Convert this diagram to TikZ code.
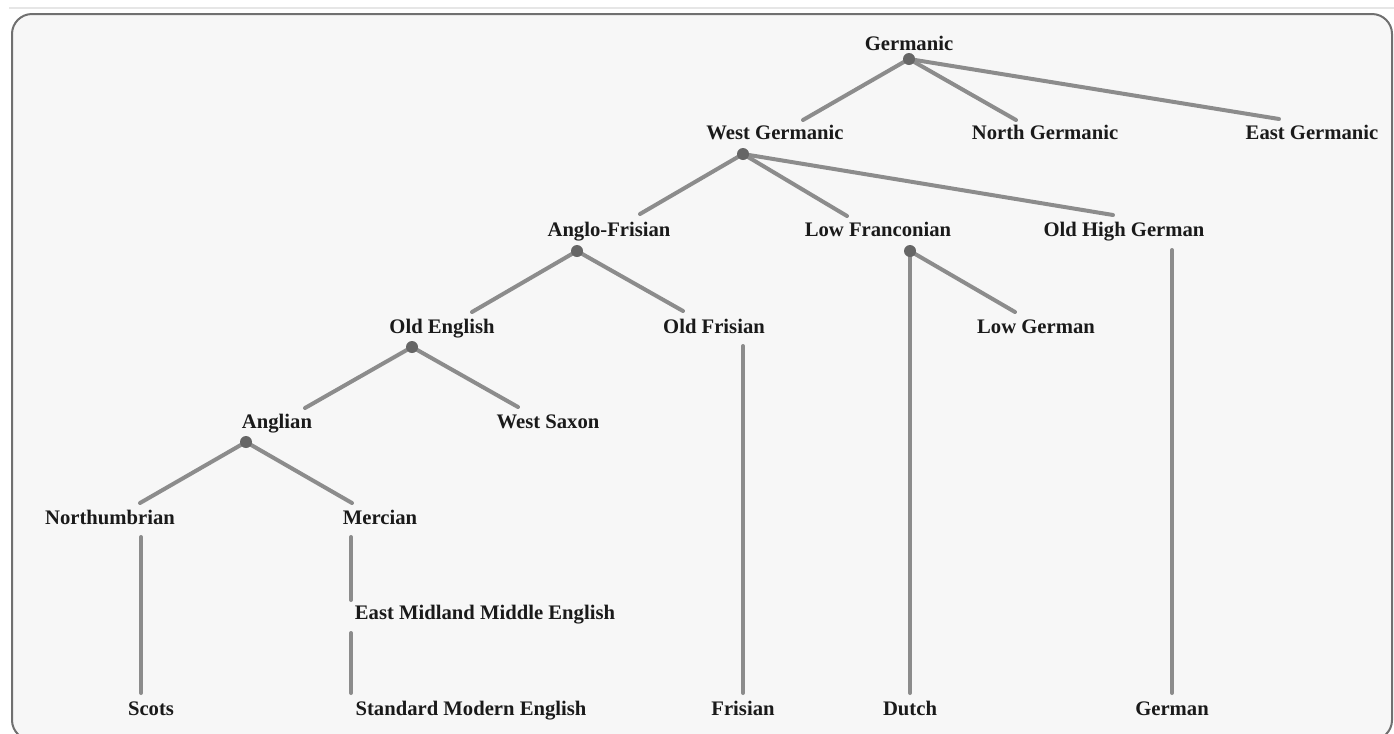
\documentclass[tikz,border=0pt]{standalone}
\usepackage{fontspec}
\setmainfont{Liberation Serif}
\usetikzlibrary{backgrounds}

\definecolor{linkgray}{HTML}{8C8C8C}
\definecolor{dotgray}{HTML}{666666}
\definecolor{panelbg}{HTML}{F7F7F7}
\definecolor{framegray}{HTML}{707070}
\definecolor{rulegray}{HTML}{E6E6E6}
\definecolor{labelink}{HTML}{1A1A1A}

\tikzset{
  lang/.style={font=\fontsize{15.5}{18}\selectfont\rmfamily\bfseries, text=labelink, inner sep=0pt, anchor=base},
  link/.style={draw=linkgray, line width=3pt, line cap=round},
}

\begin{document}
\begin{tikzpicture}[x=0.75pt,y=-0.75pt]
      \useasboundingbox (0,0) rectangle (1394,733);
      \fill [white] (0,0) rectangle (1394,733);
      \draw [rulegray, line width=1.5pt] (9,8) -- (1394,8);
      \draw [framegray, fill=panelbg, line width=1.5pt, rounded corners=15pt] (12,14) rectangle (1392,740);

      % languages (placed on their baselines)
      \node [lang] (germ) at (909,50) {Germanic};
      \node [lang] (wg) at (775,139) {West Germanic};
      \node [lang] (ng) at (1045,139) {North Germanic};
      \node [lang] (eg) at (1312,139) {East Germanic};
      \node [lang] (af) at (609,236) {Anglo-Frisian};
      \node [lang] (lf) at (878,236) {Low Franconian};
      \node [lang] (ohg) at (1124,236) {Old High German};
      \node [lang] (oe) at (442,333) {Old English};
      \node [lang] (ofr) at (714,333) {Old Frisian};
      \node [lang] (lg) at (1036,333) {Low German};
      \node [lang] (ang) at (277,428) {Anglian};
      \node [lang] (ws) at (548,428) {West Saxon};
      \node [lang] (nth) at (110,524) {Northumbrian};
      \node [lang] (mer) at (380,524) {Mercian};
      \node [lang] (emme) at (485,619) {East Midland Middle English};
      \node [lang] (sco) at (151,715) {Scots};
      \node [lang] (sme) at (471,715) {Standard Modern English};
      \node [lang] (fri) at (743,715) {Frisian};
      \node [lang] (dut) at (910,715) {Dutch};
      \node [lang] (ger) at (1172,715) {German};

      % forks
      \coordinate (germ-fork) at (909,59);
      \coordinate (wg-fork) at (743,154);
      \coordinate (af-fork) at (577,251);
      \coordinate (lf-fork) at (910,251);
      \coordinate (oe-fork) at (412,347);
      \coordinate (ang-fork) at (246,442);

      % link ends
      \coordinate (wg-in) at (803,120);
      \coordinate (ng-in) at (1016,120);
      \coordinate (eg-in) at (1279,119);
      \coordinate (af-in) at (640,214);
      \coordinate (lf-in) at (847,216);
      \coordinate (ohg-in) at (1113,215);
      \coordinate (oe-in) at (472,312);
      \coordinate (ofr-in) at (683,311);
      \coordinate (lg-in) at (1015,312);
      \coordinate (ang-in) at (305,408);
      \coordinate (ws-in) at (518,407);
      \coordinate (nth-in) at (140,503);
      \coordinate (mer-in) at (352,503);

      % vertical runs
      \coordinate (ohg-out) at (1172,250);
      \coordinate (ger-in) at (1172,693);
      \coordinate (ofr-out) at (743,346);
      \coordinate (fri-in) at (743,693);
      \coordinate (dut-in) at (910,693);
      \coordinate (nth-out) at (141,537);
      \coordinate (sco-in) at (141,693);
      \coordinate (mer-out) at (351,537);
      \coordinate (emme-in) at (351,600);
      \coordinate (emme-out) at (351,633);
      \coordinate (sme-in) at (351,693);

      \foreach \a/\b in {germ-fork/wg-in, germ-fork/ng-in, germ-fork/eg-in,
        wg-fork/af-in, wg-fork/lf-in, wg-fork/ohg-in,
        af-fork/oe-in, af-fork/ofr-in, lf-fork/lg-in, lf-fork/dut-in,
        oe-fork/ang-in, oe-fork/ws-in, ang-fork/nth-in, ang-fork/mer-in,
        ohg-out/ger-in, ofr-out/fri-in, nth-out/sco-in,
        mer-out/emme-in, emme-out/sme-in}
      \draw [link] (\a) -- (\b);

      \foreach \d in {germ-fork, wg-fork, af-fork, lf-fork, oe-fork, ang-fork}
      \fill [dotgray] (\d) circle (6);
\end{tikzpicture}
\end{document}
